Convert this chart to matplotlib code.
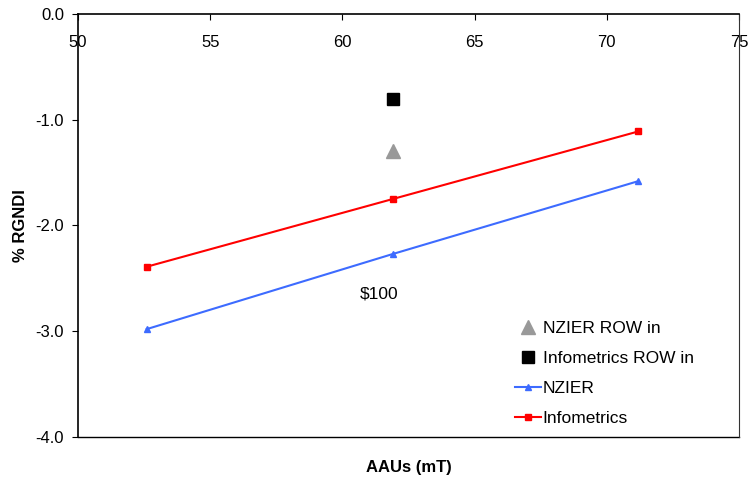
import matplotlib
matplotlib.use("Agg")
import matplotlib.pyplot as plt

plt.rcParams["font.family"] = ["Liberation Sans", "DejaVu Sans"]

# AAUs (mT) on x, % RGNDI on y
aau = [52.6, 61.9, 71.2]
infometrics = [-2.39, -1.75, -1.11]
nzier = [-2.98, -2.27, -1.58]

row_x = [61.9]
nzier_row = [-1.30]
infometrics_row = [-0.80]

price_label = "$100"
price_pos = (61.4, -2.65)

fig = plt.figure(figsize=(7.49, 4.78), dpi=100)
ax = fig.add_axes([0.1041, 0.0858, 0.8825, 0.8849])

ax.plot(row_x, nzier_row, linestyle="none", marker="^", markersize=10,
        color="#999999", label="NZIER ROW in")
ax.plot(row_x, infometrics_row, linestyle="none", marker="s", markersize=8.5,
        color="black", label="Infometrics ROW in")
ax.plot(aau, nzier, color="#3d6bff", lw=1.5, marker="^", markersize=4,
        label="NZIER")
ax.plot(aau, infometrics, color="#ff0000", lw=1.5, marker="s", markersize=4,
        label="Infometrics")

ax.text(price_pos[0], price_pos[1], price_label, fontsize=12.5,
        ha="center", va="center")

ax.set_xlim(50, 75)
ax.set_ylim(-4, 0)
ax.set_xticks([50, 55, 60, 65, 70, 75])
ax.set_yticks([0, -1, -2, -3, -4])
ax.set_yticklabels(["0.0", "-1.0", "-2.0", "-3.0", "-4.0"])

# x axis sits at y = 0, along the top of the plot area
ax.spines["bottom"].set_position(("data", 0))
ax.spines["top"].set_visible(False)
ax.spines["right"].set_color("#333333")
ax.spines["right"].set_linewidth(0.8)
ax.axhline(-4, color="black", lw=1, clip_on=False)
ax.spines["left"].set_linewidth(1.2)
ax.spines["bottom"].set_linewidth(1.2)

ax.tick_params(axis="x", direction="out", length=4, pad=11, labelsize=12)
ax.tick_params(axis="y", direction="out", length=4, pad=6, labelsize=12)

ax.set_xlabel("AAUs (mT)", fontsize=12, fontweight="bold")
ax.xaxis.set_label_coords(0.5, -0.055)
ax.set_ylabel("% RGNDI", fontsize=12, fontweight="bold")
ax.yaxis.set_label_coords(-0.075, 0.5)

ax.legend(loc="upper left", bbox_to_anchor=(0.661, 0.274), frameon=False,
          fontsize=12.5, handlelength=1.5, handletextpad=0.1,
          labelspacing=0.85, borderaxespad=0, borderpad=0)

fig.savefig("out.png", dpi=100)
